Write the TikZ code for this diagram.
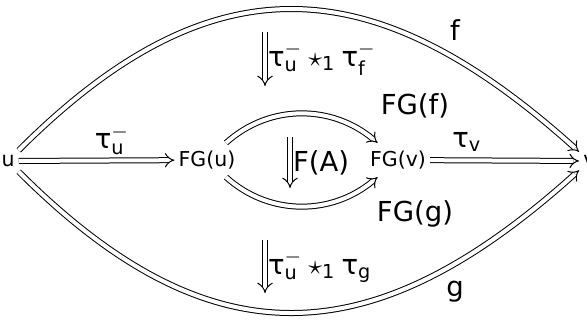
\documentclass[tikz,border=0pt]{standalone}
\usepackage{amsmath}
\usepackage{fontspec}
\setmainfont{DejaVu Sans}
\usetikzlibrary{arrows.meta}
\newcommand\tx[1]{\text{#1}}
\begin{document}
\begin{tikzpicture}[x=0.4pt,y=-0.4pt,
  obj/.style={font=\fontsize{8.2}{9}\selectfont, inner xsep=1.5pt, inner ysep=3pt},
  lab/.style={font=\fontsize{11}{12}\selectfont, inner sep=1pt},
  dbl/.style={double, double distance=1.6pt, line width=0.4pt, -{Implies}},
  cell/.style={double, double distance=1.8pt, line width=0.4pt, -{Implies}}]
\useasboundingbox (0,0) rectangle (587,322);
\node[obj] (u) at (8,161) {u};
\node[obj] (FGu) at (207,160) {FG(u)};
\node[obj] (FGv) at (398,160) {FG(v)};
\node[obj,anchor=west] (v) at (579,161) {v};
\draw[dbl] (u) -- (FGu);
\draw[dbl] (FGv) -- (v);
\draw[dbl] (u) to[out=45,in=138,looseness=1.25] (v);
\draw[dbl] (u) to[out=-45,in=-138,looseness=1.25] (v);
\draw[dbl] (FGu) to[out=42,in=140] (FGv);
\draw[dbl] (FGu) to[out=-42,in=-140] (FGv);
\node[lab] (ltu) at (112,140) {$\tx{τ}^{-}_{\tx{u}}$};
\node[lab] (ltv) at (467,142) {$\tx{τ}_{\tx{v}}$};
\node[lab] (lf) at (455,30) {f};
\node[lab] (lg) at (455,292) {g};
\node[lab] (lFGf) at (415,106) {FG(f)};
\node[lab] (lFGg) at (415,214) {FG(g)};
\coordinate (a1) at (265,32); \coordinate (b1) at (265,86);
\coordinate (a2) at (290,137); \coordinate (b2) at (290,188);
\coordinate (a3) at (265,240); \coordinate (b3) at (265,293);
\draw[cell] (a1) -- node[lab,right] {$\tx{τ}^{-}_{\tx{u}}\star_{\tx{1}}\tx{τ}^{-}_{\tx{f}}$} (b1);
\draw[cell] (a2) -- node[lab,right] {F(A)} (b2);
\draw[cell] (a3) -- node[lab,right] {$\tx{τ}^{-}_{\tx{u}}\star_{\tx{1}}\tx{τ}_{\tx{g}}$} (b3);
\end{tikzpicture}
\end{document}
